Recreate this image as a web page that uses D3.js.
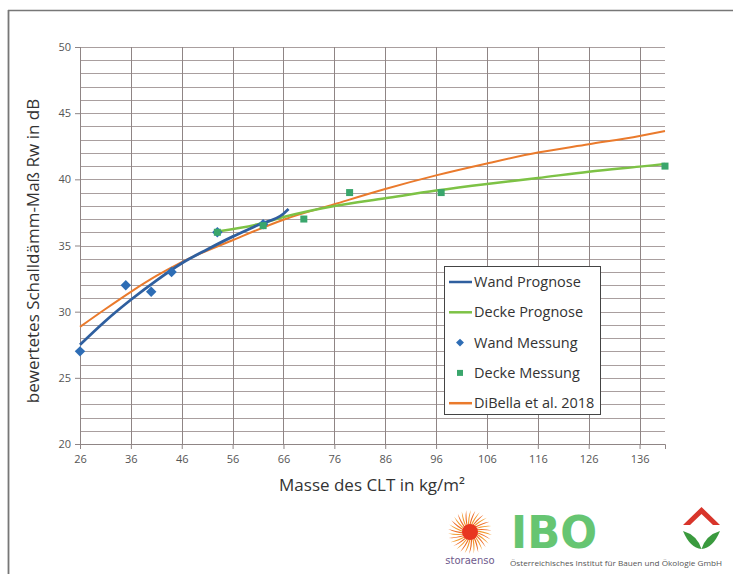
<!DOCTYPE html>
<html><head><meta charset="utf-8">
<script src="https://cdn.jsdelivr.net/npm/d3@7"></script>
<style>
html,body{margin:0;padding:0;background:#fff;}
svg{display:block;font-family:"Open Sans",sans-serif;}
</style></head>
<body>
<svg id="c" width="733" height="574"></svg>
<script>
// ---------- data ----------
const xTicks = [26,36,46,56,66,76,86,96,106,116,126,136];
const yTicks = [20,25,30,35,40,45,50];
const yMinor = d3.range(20,51,1);

const wandPrognose = [[26,27.5],[31,29.3],[36,30.9],[41,32.35],[46,33.66],[51,34.7],[56,35.67],[61,36.55],[66,37.4],[67,37.75]];
const deckePrognose = [[53,36.05],[62,36.7],[66,37.15],[76,37.99],[86,38.57],[96,39.15],[106,39.65],[116,40.1],[126,40.58],[136,40.96],[141,41.15]];
const diBella = [[26,28.85],[31,30.2],[36,31.5],[41,32.7],[46,33.75],[56,35.4],[66,36.95],[76,38.12],[86,39.27],[96,40.3],[106,41.2],[116,42.02],[126,42.65],[136,43.28],[141,43.65]];
const wandMessung = [[26,27],[35,32],[40,31.5],[44,33],[53,36],[62,36.6]];
const deckeMessung = [[53,36],[62,36.5],[70,37],[79,39],[97,39],[141,41]];

const legendItems = [
  {label:"Wand Prognose", type:"line", color:"#2f5f9f"},
  {label:"Decke Prognose", type:"line", color:"#7dc245"},
  {label:"Wand Messung", type:"diamond", color:"#2e6db5"},
  {label:"Decke Messung", type:"square", color:"#3aa66c"},
  {label:"DiBella et al. 2018", type:"line", color:"#ea7a2c"}
];

// ---------- layout ----------
const svg = d3.select("#c");
const x = d3.scaleLinear().domain([26,141]).range([80,665]);
const y = d3.scaleLinear().domain([20,50]).range([444,47]);

// outer frame
svg.append("line").attr("x1",8).attr("x2",733).attr("y1",10.5).attr("y2",10.5).attr("stroke","#777").attr("stroke-width",1.5);
svg.append("line").attr("x1",8.5).attr("x2",8.5).attr("y1",10).attr("y2",574).attr("stroke","#777").attr("stroke-width",1.8);

// grid
const grid = svg.append("g");
grid.selectAll("line.h").data(yMinor).join("line")
  .attr("x1",x(26)).attr("x2",x(141))
  .attr("y1",d=>Math.round(y(d))+0.5).attr("y2",d=>Math.round(y(d))+0.5)
  .attr("stroke","#a99f9f").attr("stroke-width",1);
grid.selectAll("line.v").data(xTicks).join("line")
  .attr("x1",d=>Math.round(x(d))+0.5).attr("x2",d=>Math.round(x(d))+0.5)
  .attr("y1",y(50)).attr("y2",y(20))
  .attr("stroke","#8f8585").attr("stroke-width",1);

// axes
const yAxis = svg.append("g").attr("transform",`translate(${x(26)},0)`)
  .call(d3.axisLeft(y).tickValues(yTicks).tickSize(5).tickPadding(4));
const xAxis = svg.append("g").attr("transform",`translate(0,${y(20)})`)
  .call(d3.axisBottom(x).tickValues(xTicks).tickSize(5).tickPadding(6));
[yAxis,xAxis].forEach(a=>{
  a.select(".domain").attr("stroke","#8f8585");
  a.selectAll(".tick line").attr("stroke","#8f8585");
  a.selectAll(".tick text").attr("fill","#555").style("font-size","11px").style("font-family","'Open Sans',sans-serif");
});

// axis titles
svg.append("text").attr("x",372).attr("y",491).attr("text-anchor","middle")
  .attr("fill","#333").style("font-size","17px").text("Masse des CLT in kg/m²");
svg.append("text").attr("transform","translate(39,251) rotate(-90)").attr("text-anchor","middle")
  .attr("fill","#333").style("font-size","17px").text("bewertetes Schalldämm-Maß Rw in dB");

// lines
const line = d3.line().x(d=>x(d[0])).y(d=>y(d[1])).curve(d3.curveMonotoneX);
svg.append("path").datum(diBella).attr("d",line).attr("fill","none").attr("stroke","#ea7a2c").attr("stroke-width",2);
svg.append("path").datum(deckePrognose).attr("d",line).attr("fill","none").attr("stroke","#7dc245").attr("stroke-width",2.5);
svg.append("path").datum(wandPrognose).attr("d",line).attr("fill","none").attr("stroke","#2f5f9f").attr("stroke-width",2.8);

// markers
const diamond = d3.symbol().type(d3.symbolDiamond2).size(70);
svg.selectAll("path.wm").data(wandMessung).join("path")
  .attr("d",diamond).attr("transform",d=>`translate(${x(d[0])},${y(d[1])})`).attr("fill","#2e6db5");
svg.selectAll("rect.dm").data(deckeMessung).join("rect")
  .attr("x",d=>x(d[0])-3.5).attr("y",d=>y(d[1])-3.5).attr("width",7).attr("height",7).attr("fill","#3aa66c");

// legend
const lg = svg.append("g");
lg.append("rect").attr("x",444.5).attr("y",266.5).attr("width",156).attr("height",148)
  .attr("fill","#fff").attr("stroke","#444").attr("stroke-width",1);
const rowY = i => 282 + i*30.3;
legendItems.forEach((it,i)=>{
  const cy = rowY(i);
  if(it.type==="line"){
    lg.append("line").attr("x1",449).attr("x2",472).attr("y1",cy).attr("y2",cy).attr("stroke",it.color).attr("stroke-width",2.5);
  } else if(it.type==="diamond"){
    lg.append("path").attr("d",d3.symbol().type(d3.symbolDiamond2).size(40)).attr("transform",`translate(460,${cy})`).attr("fill",it.color);
  } else {
    lg.append("rect").attr("x",457).attr("y",cy-3).attr("width",6).attr("height",6).attr("fill",it.color);
  }
  lg.append("text").attr("x",474).attr("y",cy).attr("dy","0.35em").attr("fill","#333")
    .style("font-size","14.5px").text(it.label);
});

// ---------- logos ----------
// Stora Enso sun
const sun = svg.append("g").attr("transform","translate(470,532)");
const nRays = 30;
for(let i=0;i<nRays;i++){
  const a = i/nRays*2*Math.PI;
  const r0=5, r1=22;
  const a1=a+0.35, aw=0.07;
  const p = d3.path();
  p.moveTo(r0*Math.cos(a-aw), r0*Math.sin(a-aw));
  p.quadraticCurveTo(14*Math.cos(a+0.12), 14*Math.sin(a+0.12), r1*Math.cos(a1), r1*Math.sin(a1));
  p.quadraticCurveTo(14*Math.cos(a+0.26), 14*Math.sin(a+0.26), r0*Math.cos(a+aw), r0*Math.sin(a+aw));
  p.closePath();
  sun.append("path").attr("d",p.toString()).attr("fill", i%2? "#f29a2e":"#ee6a24");
}
sun.append("circle").attr("r",8).attr("fill","#e8361f");
svg.append("text").attr("x",470).attr("y",564).attr("text-anchor","middle").attr("fill","#6e5a8c")
  .style("font-size","10px").style("font-family","'DejaVu Sans',sans-serif").text("storaenso");

// IBO
svg.append("text").attr("x",511).attr("y",548).attr("fill","#66c572")
  .attr("textLength",86).attr("lengthAdjust","spacingAndGlyphs")
  .style("font-size","45px").style("font-weight","bold").style("font-family","'DejaVu Sans',sans-serif").text("IBO");
svg.append("text").attr("x",510).attr("y",566).attr("fill","#555")
  .attr("textLength",212).attr("lengthAdjust","spacingAndGlyphs")
  .style("font-size","7px").text("Österreichisches Institut für Bauen und Ökologie GmbH");

// house logo
const hl = svg.append("g");
hl.append("path").attr("d","M683,525 L701.5,507 L720,525 L713,525 L701.5,514 L690,525 Z").attr("fill","#d8352b");
hl.append("path").attr("d","M683,531 Q690,548 701.5,549 Q697,535 683,531 Z").attr("fill","#3a9a3e");
hl.append("path").attr("d","M720,531 Q713,548 701.5,549 Q706,535 720,531 Z").attr("fill","#3a9a3e");
</script>
</body></html>
